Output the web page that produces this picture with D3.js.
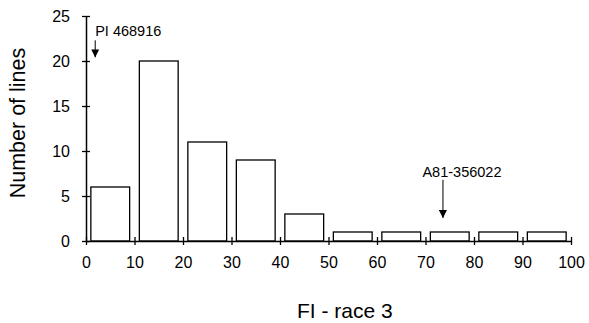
<!DOCTYPE html>
<html>
<head>
<meta charset="utf-8">
<script src="https://cdn.jsdelivr.net/npm/d3@7"></script>
<style>
  body { margin: 0; background: #fff; }
  svg { font-family: Arial, "Liberation Sans", sans-serif; }
  .tick text { font-size: 16px; fill: #000; }
</style>
</head>
<body>
<svg id="chart" width="589" height="323"></svg>
<script>
// data: histogram of FI - race 3, 10-unit bins
const binStarts = [0, 10, 20, 30, 40, 50, 60, 70, 80, 90];
const counts = [6, 20, 11, 9, 3, 1, 1, 1, 1, 1];
const xTicks = [0, 10, 20, 30, 40, 50, 60, 70, 80, 90, 100];
const yTicks = [0, 5, 10, 15, 20, 25];
const notes = [
  { label: "PI 468916", x: 1.9, yFrom: 22.3, yTo: 20.4, anchor: "start", dx: 0, ty: 22.8 },
  { label: "A81-356022", x: 73.6, yFrom: 6.8, yTo: 2.55, anchor: "middle", dx: 19, ty: 7.1 }
];

const margin = { top: 16, right: 18, bottom: 82, left: 86 },
      width = 589 - margin.left - margin.right,
      height = 323 - margin.top - margin.bottom;

const svg = d3.select("#chart");
const g = svg.append("g")
    .attr("transform", `translate(${margin.left},${margin.top})`);

const x = d3.scaleLinear().domain([0, 100]).range([0, width]);
const y = d3.scaleLinear().domain([0, 25]).range([height, 0]);

// bars
g.selectAll(".bar")
    .data(binStarts.map((s, i) => ({ s, c: counts[i] })))
    .enter()
    .append("rect")
    .attr("x", d => x(d.s + 1))
    .attr("width", d => x(d.s + 9) - x(d.s + 1))
    .attr("y", d => y(d.c))
    .attr("height", d => y(0) - y(d.c))
    .attr("fill", "#fff")
    .attr("stroke", "#000")
    .attr("stroke-width", 1.3);

// axes with ticks crossing the line
const xAxis = g.append("g")
    .attr("transform", `translate(0,${height})`)
    .call(d3.axisBottom(x).tickValues(xTicks).tickSize(4).tickSizeOuter(0).tickPadding(12));
xAxis.selectAll(".tick line").attr("y1", -4).attr("stroke-width", 1.3);
xAxis.select(".domain").attr("stroke-width", 1.5);

const yAxis = g.append("g")
    .call(d3.axisLeft(y).tickValues(yTicks).tickSize(4).tickSizeOuter(0).tickPadding(12));
yAxis.selectAll(".tick line").attr("x1", 4).attr("stroke-width", 1.3);
yAxis.select(".domain").attr("stroke-width", 1.5);

// arrow marker
svg.append("defs").append("marker")
    .attr("id", "head")
    .attr("viewBox", "0 0 10 10")
    .attr("refX", 10).attr("refY", 5)
    .attr("markerWidth", 8).attr("markerHeight", 8)
    .attr("markerUnits", "userSpaceOnUse")
    .attr("orient", "auto")
    .append("path")
    .attr("d", "M0,0 L10,5 L0,10 Z")
    .attr("fill", "#000");

notes.forEach(n => {
    g.append("line")
        .attr("x1", x(n.x)).attr("x2", x(n.x))
        .attr("y1", y(n.yFrom)).attr("y2", y(n.yTo))
        .attr("stroke", "#000")
        .attr("marker-end", "url(#head)");
    g.append("text")
        .attr("x", x(n.x) + n.dx)
        .attr("y", y(n.ty))
        .attr("text-anchor", n.anchor)
        .attr("font-size", "14.5px")
        .text(n.label);
});

// axis titles
svg.append("text")
    .attr("x", 297)
    .attr("y", 318)
    .attr("font-size", "21px")
    .text("FI - race 3");

svg.append("text")
    .attr("text-anchor", "middle")
    .attr("transform", `translate(25,123) rotate(-90)`)
    .attr("font-size", "21.5px")
    .text("Number of lines");
</script>
</body>
</html>
